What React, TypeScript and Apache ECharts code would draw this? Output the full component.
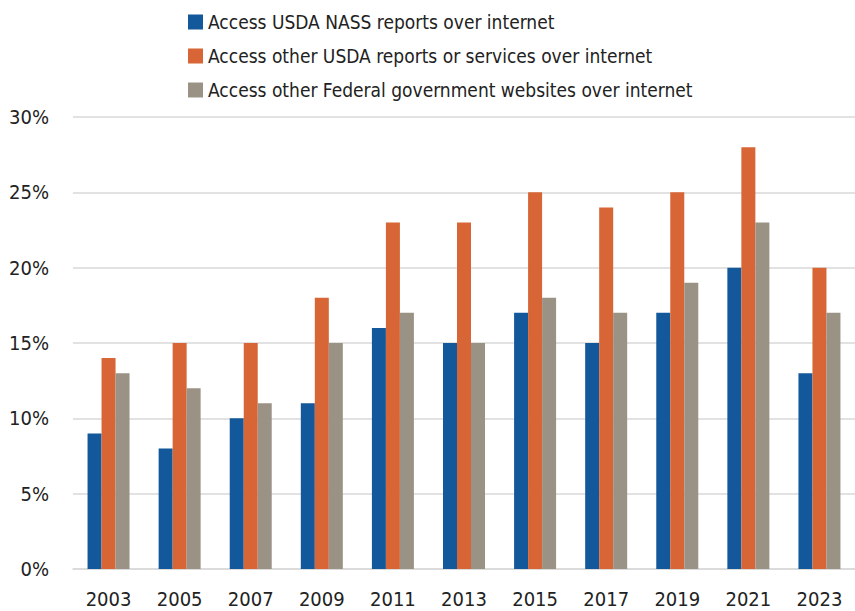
import React, { useEffect, useRef } from "react";
import * as echarts from "echarts";

const years = ["2003", "2005", "2007", "2009", "2011", "2013", "2015", "2017", "2019", "2021", "2023"];
const nassReports = [9, 8, 10, 11, 16, 15, 17, 15, 17, 20, 13];
const otherUsda = [14, 15, 15, 18, 23, 23, 25, 24, 25, 28, 20];
const federalSites = [13, 12, 11, 15, 17, 15, 18, 17, 19, 23, 17];
const seriesNames = [
  "Access USDA NASS reports over internet",
  "Access other USDA reports or services over internet",
  "Access other Federal government websites over internet",
];
const colors = ["#12589A", "#D76535", "#9B9286"];

const FONT = "'Liberation Sans Narrow', 'DejaVu Sans Condensed', 'Arial Narrow', sans-serif";

export default function App() {
  const ref = useRef<HTMLDivElement>(null);
  useEffect(() => {
    if (!ref.current) return;
    const chart = echarts.init(ref.current, undefined, { renderer: "svg" });
    const values = [nassReports, otherUsda, federalSites];
    chart.setOption({
      animation: false,
      textStyle: { fontFamily: FONT },
      legend: {
        orient: "vertical",
        left: 188,
        top: 11,
        padding: 0,
        itemWidth: 15,
        itemHeight: 15,
        itemGap: 12,
        icon: "rect",
        textStyle: { fontFamily: FONT, fontSize: 19, color: "#222", lineHeight: 22 },
        data: seriesNames,
      },
      grid: { left: 73, right: -7, top: 117, bottom: 42, containLabel: false },
      xAxis: {
        type: "category",
        data: years,
        axisTick: { show: false },
        axisLine: { lineStyle: { color: "#d9d9d9", width: 1.5 } },
        axisLabel: { fontFamily: FONT, fontSize: 20, color: "#222", margin: 20 },
      },
      yAxis: {
        type: "value",
        min: 0,
        max: 30,
        interval: 5,
        axisLabel: { formatter: "{value}%", fontFamily: FONT, fontSize: 20, color: "#222", margin: 24 },
        splitLine: { lineStyle: { color: "#d9d9d9", width: 1.5 } },
        axisLine: { show: false },
        axisTick: { show: false },
      },
      series: seriesNames.map((name, i) => ({
        name,
        type: "bar",
        data: values[i],
        barWidth: 14,
        barGap: "0%",
        itemStyle: { color: colors[i] },
      })),
    });
    return () => chart.dispose();
  }, []);
  return (
    <div
      ref={ref}
      style={{ position: "absolute", left: 0, top: 0, width: 855, height: 611 }}
    />
  );
}
